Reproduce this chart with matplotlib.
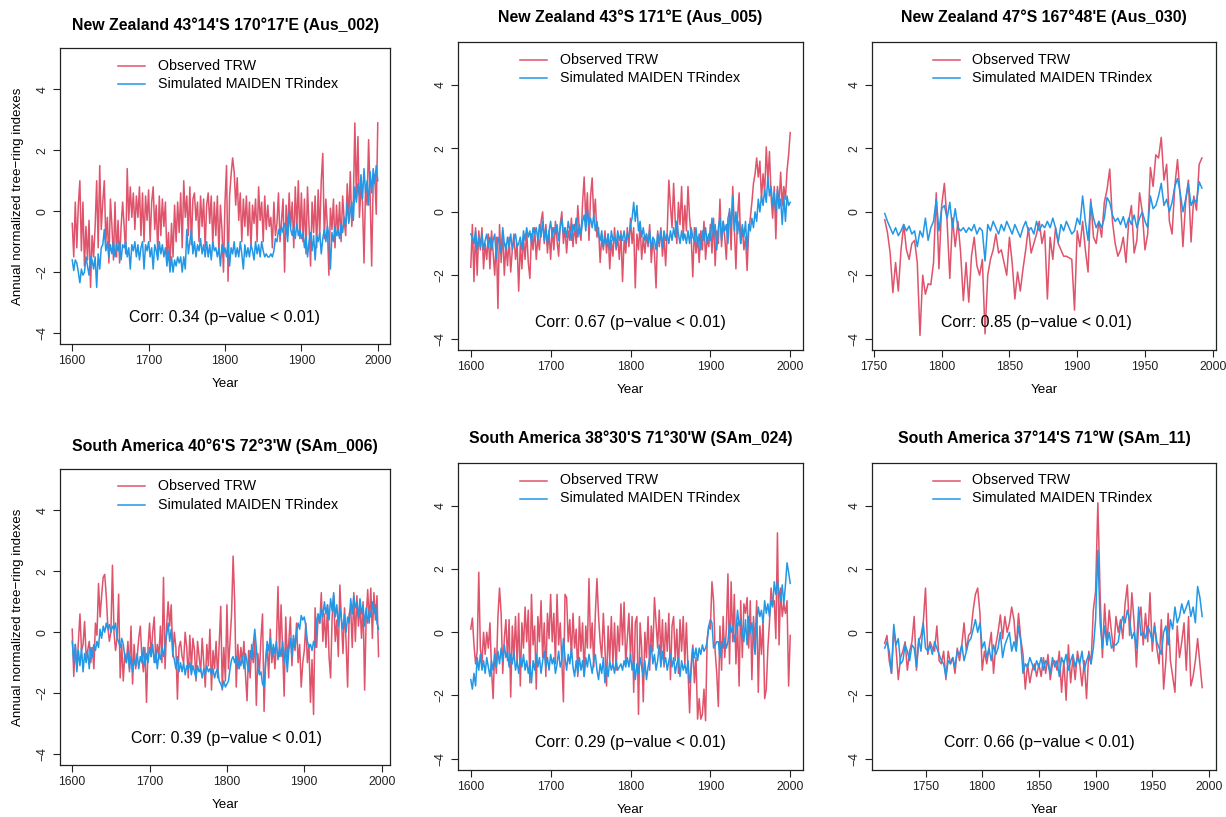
import numpy as np
import matplotlib
matplotlib.use("Agg")
import matplotlib.pyplot as plt
from matplotlib.lines import Line2D

plt.rcParams['font.family'] = ['Liberation Sans', 'DejaVu Sans']
plt.rcParams['axes.unicode_minus'] = True

RED = "#DF536B"
BLUE = "#2297E6"

# ---------------- data (values every 2 years) ----------------
p1_start = 1600
p1_obs = [
    -0.4, -1.5, 0.3, -1.2, 0.2, 1.0, -1.3, 0.3, -1.8, -0.5,
    -1.6, -0.3, -2.5, -0.8, -1.5, -0.5, 1.0, -1.2, 1.5, -0.6,
    0.3, 1.0, -1.0, -0.2, -1.7, 0.4, -0.5, -1.6, 0.3, -1.5,
    -0.3, -1.7, -0.5, 0.3, -0.5, -1.4, 1.4, -0.3, 0.8, -0.2,
    0.6, -0.6, 0.5, -0.2, 0.8, -0.8, 0.6, -1.0, 0.5, -0.3,
    0.7, -1.0, 0.3, 0.8, -0.6, 0.2, -1.4, 0.5, -0.8, 0.4,
    -0.5, 0.3, -1.6, -0.7, -1.8, -0.4, -1.5, 0.2, -1.0, 0.3,
    -0.7, 0.6, -1.2, 1.0, -0.2, 0.5, -0.8, 0.8, -1.1, 0.4,
    0.6, -0.3, 0.3, -1.0, 0.5, -0.5, 0.4, -1.2, 0.2, 0.6,
    -0.4, 0.5, -1.1, 0.3, -0.8, 0.5, -1.4, 0.2, -0.6, -2.0,
    0.3, 1.5, -2.3, 0.5, 1.2, 1.75, 1.3, 0.2, 1.1, -0.3,
    0.6, -1.0, 0.4, -0.5, 0.5, -0.8, 0.3, -1.2, 0.2, -0.4,
    0.4, -1.0, 0.8, -0.3, 0.3, -1.0, 0.5, -0.6, 0.2, -0.5,
    -0.2, -1.2, 0.3, -0.8, -0.4, 0.6, -1.0, -0.3, 0.4, -2.0,
    0.2, -0.8, 0.6, -0.5, 0.3, -1.2, 0.8, -0.6, 1.0, -0.9,
    0.6, -1.0, 0.4, -1.4, 0.8, -0.5, -1.8, 0.3, -0.7, 0.5,
    -1.2, 0.7, -0.8, 1.0, 1.9, -0.9, 0.4, -0.5, -2.1, 0.1,
    -0.6, 0.4, -1.2, 0.2, -0.8, 0.3, -1.0, 0.5, -0.3, -0.8,
    0.9, -0.3, 1.3, -0.5, 0.3, 2.9, 0.4, 2.45, -0.2, 0.8,
    0.3, -1.7, 0.8, 0.2, 2.35, 0.5, -1.8, 1.0, 1.2, -0.1,
    2.9]
p1_sim = [
    -1.6, -1.95, -1.6, -1.7, -2.0, -2.35, -1.9, -2.1, -2.0, -1.5,
    -1.8, -2.1, -1.5, -1.6, -1.9, -1.5, -2.5, -1.4, -1.9, -1.2,
    -1.1, -0.6, -1.3, -1.0, -1.5, -1.1, -1.4, -1.0, -1.5, -1.1,
    -1.3, -1.0, -1.6, -1.1, -1.2, -1.0, -1.5, -1.2, -1.9, -1.1,
    -1.3, -1.0, -1.5, -1.1, -1.6, -1.2, -1.0, -1.9, -1.1, -1.3,
    -1.0, -1.5, -1.2, -1.9, -1.1, -1.3, -1.6, -1.0, -1.4, -1.1,
    -1.5, -1.2, -1.8, -1.3, -2.0, -1.5, -2.0, -1.6, -1.8, -1.5,
    -1.7, -1.5, -2.0, -1.5, -1.9, -0.6, -1.4, -1.0, -0.6, -1.4,
    -1.0, -1.5, -1.1, -1.3, -0.9, -1.4, -1.1, -1.5, -1.0, -1.5,
    -1.1, -1.6, -1.0, -1.3, -1.2, -1.5, -1.2, -1.8, -1.1, -1.4,
    -1.2, -1.5, -1.0, -1.8, -1.2, -1.4, -1.0, -1.5, -1.2, -1.5,
    -1.0, -1.4, -1.9, -1.1, -1.5, -1.2, -1.5, -1.1, -1.3, -1.6,
    -1.0, -1.4, -1.1, -1.5, -1.0, -1.3, -1.5, -1.4, -1.5, -1.5,
    -1.4, -1.5, -1.3, -0.9, -1.0, -0.6, -0.8, -0.5, -0.7, -0.4,
    -0.5, -1.0, 0.0, -0.6, -0.8, -0.5, -0.9, -0.4, -0.8, -0.6,
    -0.9, -0.7, -1.2, -0.8, -1.5, -1.0, -0.7, -1.3, -0.8, -1.6,
    -0.8, -1.0, -0.7, -1.4, -0.9, -0.6, -1.0, -0.5, -0.8, -1.9,
    -0.7, -1.0, -0.5, -0.8, -0.6, -0.9, -0.4, -0.7, -0.2, -0.5,
    0.3, -0.4, 0.0, 0.3, -0.3, 0.8, 0.3, 0.9, 0.5, 1.2,
    0.4, 1.4, 0.6, 1.0, 0.2, 1.3, 0.6, 1.4, 0.9, 1.5,
    1.0]

p2_start = 1600
p2_obs = [
    -1.75, -0.4, -2.2, -0.5, -2.0, -0.6, -1.2, -0.5, -1.8, -1.0,
    -1.5, -0.7, -1.8, -0.6, -1.3, -2.0, -0.8, -3.05, -0.4, -1.6,
    -0.6, -2.0, -1.0, -1.7, -0.8, -1.9, -1.2, -0.7, -1.5, -1.0,
    -2.5, -1.0, -1.8, -0.8, -1.5, -0.6, -1.6, -2.1, -0.7, -1.2,
    -0.5, -1.5, -0.8, -1.2, -0.3, 0.0, -1.0, -0.4, -1.3, -0.6,
    -1.5, -0.5, -1.2, -0.3, -0.9, -1.4, -0.4, 0.0, -1.0, -0.5,
    -1.3, -0.6, -0.9, -0.2, -1.1, -0.4, -1.0, 0.2, -0.6, -0.9,
    0.3, 1.1, -0.3, 0.6, -0.9, 0.5, 1.07, -0.2, 0.4, -0.8,
    -0.5, -1.6, -0.8, -1.2, -0.6, -1.3, -0.7, -1.8, -0.9, -1.4,
    -0.5, -1.2, -0.8, -1.5, -0.6, -2.2, -0.9, -1.3, -0.5, -1.1,
    -0.2, -1.0, -0.5, -2.4, -0.7, -1.2, -0.4, -1.5, -0.8, -1.3,
    -0.7, -1.1, -0.4, -1.6, -0.9, -1.3, -2.4, -0.6, -1.1, -0.5,
    -1.4, -0.8, -1.7, -0.6, 1.0, 0.2, -0.5, 0.9, -0.3, -1.0,
    0.3, -0.4, 0.8, -0.8, 0.2, -0.6, 0.8, -0.2, -0.8, -2.05,
    -0.5, -1.3, -0.8, -1.6, -0.6, -1.2, -0.3, -1.5, -0.8, -1.1,
    -0.4, -1.3, -0.2, -1.7, -0.6, -1.0, 0.4, -1.1, -0.3, -0.8,
    -1.5, -0.2, 0.0, -1.2, 0.8, -0.5, -1.8, -0.2, 0.6, -1.0,
    -0.5, -1.2, -0.8, -1.85, -0.6, -0.2, 0.3, 0.9, 1.2, 1.7,
    1.1, 1.6, 0.4, 1.2, 0.6, 2.05, 1.0, 1.9, 0.5, -0.2,
    0.8, -0.85, 0.8, 0.2, 1.25, 0.2, 0.8, 0.4, 1.3, 1.8,
    2.5]
p2_sim = [
    -0.7, -0.8, -1.0, -0.6, -1.2, -0.8, -1.1, -0.7, -1.2, -0.9,
    -0.7, -1.1, -0.8, -1.2, -0.9, -0.7, -1.5, -0.8, -1.0, -1.3,
    -0.5, -1.0, -1.2, -0.8, -1.1, -0.7, -1.2, -0.9, -0.7, -1.1,
    -1.0, -0.8, -1.2, -0.6, -0.9, -0.5, -0.8, -0.6, -1.0, -0.5,
    -0.7, -0.5, -0.9, -0.4, -0.8, -0.3, -0.9, -0.5, -1.0, -0.6,
    -0.3, -0.8, -0.5, -0.7, -0.4, -0.9, -0.5, -0.2, -0.7, -0.5,
    -0.8, -0.3, -0.6, -0.9, -0.4, -0.6, -0.2, -0.8, -0.4, -0.7,
    -0.3, -0.1, -0.6, 0.05, -0.4, -0.2, -0.5, -0.1, -0.6, -0.3,
    -0.7, -0.9, -0.6, -1.1, -0.8, -1.0, -0.7, -1.2, -0.6, -0.9,
    -0.8, -1.1, -0.6, -0.9, -0.7, -0.9, -0.6, -1.0, -0.7, -0.8,
    -0.4, -0.2, 0.3, -0.3, 0.2, -0.6, -0.3, -0.8, -0.5, -0.9,
    -0.7, -1.0, -0.6, -1.2, -0.8, -0.9, -1.2, -0.7, -1.0, -0.6,
    -1.1, -0.6, -0.9, -0.7, -1.0, -0.6, -0.9, -0.5, -0.8, -0.3,
    -0.7, -1.0, -0.6, -0.9, -0.7, -1.0, -0.6, -1.0, -0.5, -0.8,
    -0.9, -0.5, -1.1, -0.7, -1.2, -0.6, -0.9, -0.5, -1.0, -0.7,
    -0.9, -0.2, -0.8, -0.4, -1.2, -0.5, -0.2, -0.9, -0.3, -0.6,
    -0.4, -1.0, 0.1, -0.5, 0.5, -0.6, 0.0, -0.7, -0.3, -1.0,
    -0.4, -0.8, -0.3, -1.2, -0.4, -0.6, -0.2, -0.5, 0.0, -0.3,
    0.4, 0.0, 0.5, 0.2, 0.7, 0.3, 1.1, 0.5, 0.8, 0.2,
    0.6, 0.0, 0.7, 0.1, 0.4, -0.4, 0.5, -0.3, 0.5, 0.2,
    0.3]

p3_start = 1758
p3_obs = [
    -0.25, -0.65, -1.3, -2.55, -1.6, -2.5, -1.2, -0.4, -1.2, -1.5,
    -1.0, -0.9, -1.6, -3.9, -2.0, -2.6, -2.27, -2.3, -1.6, 0.6,
    -1.8, 0.2, 0.9, -0.3, -2.1, -0.2, -1.1, -0.3, -1.3, -2.8,
    -1.6, -2.85, -1.4, -0.8, -1.7, -2.0, -1.5, -3.85, -2.0, -1.5,
    -1.2, -0.7, -1.3, -1.2, -1.6, -2.0, -0.8, -1.6, -2.75, -1.9,
    -2.5, -1.8, -1.2, -0.5, -1.3, -1.0, -0.7, -0.3, -1.0, -0.6,
    -2.75, -0.8, -1.5, -0.5, -1.0, -1.2, -1.4, -1.4, -1.45, -1.5,
    -3.1, -0.6, -1.1, -0.3, -1.2, -1.9, 0.4, -0.8, -1.0, -0.3,
    -0.8, 0.3, 0.7, 1.35, -0.3, -1.0, -1.4, -1.2, -0.8, -1.6,
    -0.3, 0.2, -1.3, -0.9, 0.6, 0.0, -1.2, -0.7, 1.4, 0.8,
    1.8, 1.7, 2.35, 1.0, 1.5, -0.3, -0.7, 0.8, 1.65, 0.5,
    -1.1, 0.3, 1.0, -0.95, 0.5, 0.05, 1.5, 1.7]
p3_sim = [
    -0.05, -0.3, -0.5, -0.7, -0.5, -0.75, -0.6, -0.4, -0.6, -0.45,
    -0.7, -0.6, -1.1, -0.6, -0.8, -0.2, -0.9, -0.5, -0.3, 0.4,
    -0.6, 0.1, 0.2, -0.2, 0.3, -0.5, 0.1, -0.5, -0.6, -0.5,
    -0.65, -0.5, -0.6, -0.4, -0.7, -0.5, -0.6, -1.55, -0.4, -0.6,
    -0.3, -0.5, -0.7, -0.4, -0.6, -0.3, -0.5, -0.7, -0.4, -0.6,
    -0.8, -0.5, -0.3, -0.6, -0.5, -0.7, -0.3, -0.6, -0.4, -0.5,
    -0.3, -0.5, -0.2, -0.5, -0.95, -0.4, -0.6, -0.3, -0.5, -0.7,
    -0.6, -0.2, -0.4, 0.5, -0.3, -0.9, 0.3, -0.2, -0.5, -0.3,
    -0.5, -0.2, 0.45, 0.3, -0.1, -0.3, -0.2, -0.4, -0.15, -0.5,
    -0.2, -0.4, -0.1, -0.5, -0.2, 0.0, -0.3, -0.5, 0.5, 0.1,
    0.2, 0.5, 0.9, 0.2, 0.4, 0.0, 0.3, 0.8, 1.05, 0.6,
    0.0, 0.4, 0.9, 0.2, 0.4, 0.3, 0.95, 0.75]

p4_start = 1600
p4_obs = [
    0.1, -1.45, -0.4, -1.2, -0.3, 0.6, -0.6, -0.4, 0.35, -0.8,
    -0.6, -0.3, -1.0, -0.5, -1.2, 0.3, -0.1, 1.6, 0.5, 1.2,
    1.8, 1.9, 1.2, 0.2, -0.3, 0.0, 2.2, 0.0, -0.6, -0.2,
    1.25, -1.5, -0.4, -1.6, -0.7, -1.0, -0.3, -1.3, 0.2, -1.7,
    -0.4, -1.2, -0.8, -0.2, 0.2, -0.8, -1.3, -0.5, -2.3, -0.5,
    0.3, -0.8, 0.0, 0.5, -1.0, -0.4, -0.8, 0.2, -1.0, 1.8,
    -1.2, 0.2, 1.0, 0.2, 0.9, -0.8, 0.0, -0.5, -2.2, -0.5,
    -0.3, -0.8, -1.0, 0.0, -0.5, -1.5, -0.1, -1.2, -0.2, -0.6,
    -1.6, -0.3, -0.8, -1.3, -0.2, -1.0, -1.8, -0.4, -1.1, 0.1,
    -1.9, -0.6, -1.2, -0.3, -1.5, -0.4, 0.85, -1.9, -0.5, -1.6,
    0.9, -1.2, -0.3, 0.6, 2.5, 1.0, -1.8, -0.4, -1.2, -0.5,
    -1.0, -0.3, -1.4, -2.25, -0.6, -1.5, -0.4, -1.0, -0.2, -2.4,
    -0.7, -1.3, -0.2, 0.6, -2.6, -0.9, -0.4, -1.5, 0.1, -1.0,
    -0.5, -1.2, -0.3, 1.5, -0.8, 0.9, -0.6, -2.1, 0.5, -0.9,
    -0.3, 0.5, -1.1, -0.2, -0.6, 0.3, -1.0, -0.4, -1.8, -1.0,
    -0.6, 0.3, -1.0, -0.4, -2.3, -0.9, -2.7, 0.8, -0.5, 0.6,
    0.3, 1.3, -0.3, 0.6, -0.5, 0.9, -0.8, -1.5, 0.5, 1.2,
    -0.3, 0.4, -0.8, 1.55, 0.4, -0.7, 0.8, -0.3, -1.8, 0.6,
    0.8, -0.5, 1.3, -0.3, 1.2, 0.2, 0.9, -0.2, 1.0, -1.9,
    0.5, 1.4, 0.3, 1.45, -0.2, 1.3, 0.4, 1.2, -0.8]
p4_sim = [
    -0.3, -1.0, -0.4, -1.3, -0.6, -1.1, -0.5, -1.3, -0.7, -1.0,
    -0.6, -1.2, -0.5, -0.8, -0.4, -0.6, -0.3, -0.5, 0.1, -0.2,
    0.2, 0.0, 0.3, 0.1, 0.25, 0.0, 0.2, 0.1, 0.3, -0.2,
    -0.3, -0.5, -0.2, -0.4, -0.8, -1.0, -0.6, -1.2, -0.8, -1.3,
    -0.9, -1.1, -0.7, -1.2, -0.8, -1.0, -0.5, -1.1, -0.7, -1.0,
    -0.5, -0.8, -0.4, -1.0, -0.6, -1.2, -0.7, -0.9, -0.5, -0.8,
    -0.4, -0.1, 0.3, -0.3, 0.1, -0.7, -0.9, -1.2, -0.8, -1.3,
    -1.0, -1.3, -1.0, -1.4, -1.1, -1.2, -1.0, -1.4, -1.1, -1.3,
    -1.5, -1.1, -1.3, -1.2, -1.5, -1.2, -1.4, -1.1, -1.3, -1.2,
    -1.4, -1.2, -1.5, -1.3, -1.2, -1.6, -1.7, -1.85, -1.6, -1.8,
    -1.7, -1.6, -1.2, -0.9, -0.8, -1.0, -0.8, -1.2, -0.9, -1.1,
    -0.8, -1.2, -0.7, -1.0, -1.3, -0.6, -0.9, -0.4, 0.1, -0.5,
    -1.2, -1.4, -1.3, -1.7, -1.8, -1.0, -0.3, -0.6, -0.2, -0.8,
    -0.4, -0.7, -0.3, -0.9, -0.5, -0.8, -0.3, -1.0, -0.5, -1.3,
    -0.6, -0.2, -0.8, -0.1, -0.5, 0.0, 0.3, 0.1, 0.55, 0.4,
    0.5, 0.2, -0.3, -0.5, -0.4, -0.6, -0.3, -0.5, 0.4, 0.6,
    0.3, 0.8, 0.5, 1.0, 0.6, 0.9, 0.4, 1.1, 0.7, 1.3,
    0.5, 0.9, 0.2, 0.8, 0.4, 0.1, 0.6, 0.0, 0.5, 0.3,
    1.1, 0.6, 1.2, 0.8, 1.0, 0.5, 1.1, 0.6, 0.9, 0.2,
    0.8, 0.3, 0.7, 0.5, 1.0, 0.6, 0.9, 0.3, 0.1]

p5_start = 1600
p5_obs = [
    0.1, 0.45, -0.4, -1.0, -0.6, 1.9, -0.5, -1.0, 0.0, -0.7,
    0.0, -0.5, 0.3, -1.2, -2.1, -0.5, -1.3, 0.5, 1.4, 0.6,
    -1.3, -0.2, 0.4, -0.9, 0.4, -2.05, 0.2, -0.8, 0.5, -1.0,
    0.6, -1.7, 0.3, -0.5, 0.8, -0.3, 0.7, -1.6, 1.2, -0.4,
    0.2, -1.8, 0.5, -0.3, 1.0, -0.8, 0.3, -1.4, 0.6, -0.2,
    1.2, -0.3, 0.6, -1.0, 1.2, -0.4, 0.3, -0.9, -2.2, 1.2,
    1.1, -0.3, 0.4, -0.8, 0.6, -0.5, 0.1, -1.4, 0.5, -0.6,
    0.3, -1.4, 0.2, -0.5, 1.7, -0.5, 0.3, -1.1, 0.6, 1.7,
    0.5, -0.3, -0.8, 0.6, -0.5, -1.7, 0.2, -0.9, 0.5, -1.0,
    0.3, -1.2, 0.2, -0.6, 0.9, -0.4, 0.95, -1.0, -0.2, 0.6,
    -0.8, 0.5, -1.9, 0.3, 0.5, -2.6, 0.3, -0.5, -2.2, 0.0,
    -0.8, 0.5, -1.2, 0.2, -0.6, 1.1, 0.3, -0.5, 0.7, -0.8,
    0.4, -1.1, 0.3, -0.6, 0.6, -1.5, 0.2, 0.5, -0.9, 0.1,
    -1.3, 0.4, -0.6, 0.5, -1.0, 0.3, -1.2, -2.55, -1.0, -0.4,
    -1.6, -0.8, -2.75, -2.1, -2.75, -2.6, -1.8, -2.8, -0.2, 0.2,
    0.1, 1.6, 1.0, -0.6, -1.3, -2.35, 0.2, -1.2, 0.5, -0.8,
    0.1, 1.85, -1.0, 1.6, -0.3, 1.2, -1.0, 0.3, -1.7, 1.0,
    -0.8, 0.9, 0.6, 1.1, -0.5, 1.0, -1.5, 0.5, -0.4, 1.0,
    -1.9, 0.2, -0.7, 0.4, -2.1, -1.8, -0.5, 0.3, 1.4, 0.9,
    1.0, -0.2, 3.15, -0.4, 1.4, 0.5, 0.9, 0.6, 1.0, -1.7,
    -0.1]
p5_sim = [
    -1.5, -1.8, -1.3, -1.7, -0.8, -1.2, -0.7, -1.2, -0.9, -1.3,
    -0.8, -1.1, -1.4, -0.9, -1.2, -0.7, -1.1, -0.6, -1.0, -0.5,
    -0.9, -0.4, -0.8, -0.6, -1.1, -0.7, -1.0, -0.6, -1.2, -0.9,
    -1.3, -0.8, -1.1, -0.7, -1.2, -0.9, -1.3, -1.0, -1.6, -0.9,
    -1.2, -0.7, -1.1, -0.8, -1.3, -0.9, -0.6, -1.1, -0.8, -1.2,
    -0.7, -1.0, -0.8, -1.3, -1.0, -0.6, -1.1, -0.9, -0.2, -0.8,
    -1.2, -0.7, -1.0, -0.5, -1.1, -1.4, -0.9, -1.3, -0.8, -1.2,
    -0.9, -1.4, -0.8, -1.1, -0.7, -1.0, -1.3, -0.9, -0.7, -1.2,
    -1.5, -1.0, -1.3, -0.8, -1.6, -1.1, -1.4, -0.9, -1.2, -1.0,
    -1.3, -0.9, -1.2, -1.1, -1.0, -1.2, -0.9, -1.1, -0.8, -1.1,
    -0.7, -1.2, -0.9, -1.5, -1.0, -1.3, -0.8, -1.1, -1.4, -0.9,
    -1.5, -1.1, -0.8, -0.4, -1.0, -0.7, -1.2, -0.9, -0.4, -1.1,
    -0.6, -1.0, -0.8, -1.2, -0.9, -0.7, -1.1, -0.8, -1.3, -1.0,
    -0.8, -1.4, -0.9, -1.2, -1.0, -1.3, -0.9, -1.6, -1.2, -0.5,
    -0.8, -0.5, -0.9, -0.5, -0.7, -0.4, -0.6, -0.5, -0.3, 0.2,
    0.4, 0.3, -0.5, -0.4, -0.3, -0.3, -0.8, -0.3, -0.5, -0.2,
    -0.5, -0.3, 0.3, 0.0, 0.2, -0.3, 0.0, 0.7, 0.2, 0.4,
    0.0, -0.3, 0.4, -0.4, 0.5, 0.0, 0.3, -0.2, -0.7, 0.3,
    0.8, 0.5, 0.7, 0.3, 1.0, 0.6, 0.9, 0.5, 1.0, 0.8,
    1.6, 1.2, 1.6, 1.3, 1.0, 1.5, 0.9, 1.5, 2.2, 1.9,
    1.55]

p6_start = 1714
p6_obs = [
    -0.35, -0.1, -0.9, -1.3, 0.1, -0.5, -1.5, -0.8, -0.6, -0.3,
    -1.2, -0.6, -0.3, 0.5, -1.2, -0.3, -0.1, 0.3, 1.4, -0.7,
    -0.3, -0.5, -0.6, 0.2, -0.9, -1.0, -0.6, -1.5, -0.6, -1.0,
    -0.8, -1.3, -0.5, -0.9, -0.4, 0.3, -0.6, -0.1, 0.0, 0.7,
    1.2, 1.4, 0.6, -1.2, -0.6, -1.0, -0.5, 0.0, -1.3, -0.4,
    0.0, 0.55, -0.2, 0.5, 0.0, 0.3, 0.8, 0.4, -0.5, 0.6,
    -0.2, -0.7, -1.8, -1.0, -1.6, -1.2, -1.0, -1.4, -1.0, -1.4,
    -0.8, -1.3, -0.7, -1.5, -1.0, -0.9, -1.2, -0.6, -1.9, -0.9,
    -2.15, -0.4, -1.6, -0.8, -1.5, -0.6, -1.0, -1.7, -0.9, -2.1,
    -0.6, -1.0, 0.7, 1.3, 4.1, 1.2, -0.8, 0.9, -0.4, 0.7,
    0.0, -0.6, 0.5, 0.0, 0.4, -0.2, 0.9, 1.5, -0.1, 1.25,
    0.3, -1.1, 0.3, 0.8, -0.4, 0.6, -0.3, 1.25, -0.6, 0.3,
    -0.5, -1.0, 0.4, -1.8, -0.9, 0.6, -0.9, -1.4, -1.9, 0.2,
    -0.8, -0.3, 0.3, -1.2, 0.5, -1.7, -1.4, -0.9, -0.2, -1.0,
    -1.75]
p6_sim = [
    -0.5, -0.3, -0.6, -1.3, 0.25, -0.4, -0.2, -1.0, -0.9, -0.4,
    -0.6, -0.9, -0.4, -0.5, -1.1, -0.2, -0.6, 0.3, -0.5, -0.6,
    -0.4, -0.7, -0.3, -0.5, -0.7, -0.9, -1.0, -1.4, -0.9, -1.0,
    -0.8, -1.1, -0.6, -0.7, -0.4, -0.9, -0.6, -0.3, -0.2, 0.1,
    0.4, 0.0, 0.3, -0.5, -0.3, -0.8, -0.5, -0.9, -0.4, -0.7,
    -0.5, 0.0, -0.8, -0.4, -0.2, 0.0, -0.6, -0.3, -0.6, 0.2,
    -0.3, -1.3, -1.0, -1.1, -0.8, -1.0, -1.2, -0.9, -1.1, -0.8,
    -1.2, -0.9, -1.0, -1.3, -0.8, -1.1, -0.9, -1.4, -0.8, -1.0,
    -0.7, -1.2, -0.9, -0.7, -1.1, -0.8, -1.0, -0.6, -1.2, -0.9,
    -0.7, -1.0, -0.5, 0.4, 2.6, 0.3, -0.5, 0.2, -0.4, 0.0,
    -0.5, -0.4, -0.4, -0.3, 0.2, 0.5, 0.3, 0.7, 0.4, -0.2,
    0.0, -0.5, 0.8, -0.1, 0.0, -0.2, 0.2, 0.0, -0.3, 0.2,
    -0.3, -0.5, -0.7, 0.0, 0.2, -0.4, 0.4, 0.1, 0.8, 0.3,
    0.5, 0.9, 0.6, 0.8, 1.0, 0.5, 0.8, 0.3, 1.45, 1.1,
    0.5]

titles = [
    "New Zealand 43°14'S 170°17'E (Aus_002)",
    "New Zealand 43°S 171°E (Aus_005)",
    "New Zealand 47°S 167°48'E (Aus_030)",
    "South America 40°6'S 72°3'W (SAm_006)",
    "South America 38°30'S 71°30'W (SAm_024)",
    "South America 37°14'S 71°W (SAm_11)",
]
corr_labels = [
    "Corr: 0.34 (p\u2212value < 0.01)",
    "Corr: 0.67 (p\u2212value < 0.01)",
    "Corr: 0.85 (p\u2212value < 0.01)",
    "Corr: 0.39 (p\u2212value < 0.01)",
    "Corr: 0.29 (p\u2212value < 0.01)",
    "Corr: 0.66 (p\u2212value < 0.01)",
]
legend_labels = ["Observed TRW", "Simulated MAIDEN TRindex"]
y_label = "Annual normalized tree\u2212ring indexes"
x_label = "Year"
yticks = [-4, -2, 0, 2, 4]

# ---------------- layout (pixels) ----------------
W, H = 1226, 817
fig = plt.figure(figsize=(W / 100, H / 100), dpi=100)

panels = [
    dict(obs=p1_obs, sim=p1_sim, start=p1_start, box=(60, 48, 390, 344),
         xlim=(1584, 2016), xticks=[1600, 1700, 1800, 1900, 2000], cx=1800, ty=25, leg=58, ylab=True),
    dict(obs=p2_obs, sim=p2_sim, start=p2_start, box=(458, 42, 803, 350),
         xlim=(1584, 2016), xticks=[1600, 1700, 1800, 1900, 2000], cx=1800, ty=17.3, leg=62, ylab=False),
    dict(obs=p3_obs, sim=p3_sim, start=p3_start, box=(872, 42, 1216, 350),
         xlim=(1748.6, 2002.4), xticks=[1750, 1800, 1850, 1900, 1950, 2000], cx=1870, ty=17.3, leg=61, ylab=False),
    dict(obs=p4_obs, sim=p4_sim, start=p4_start, box=(60, 469, 390, 765),
         xlim=(1584.2, 2010.8), xticks=[1600, 1700, 1800, 1900, 2000], cx=1800, ty=446.3, leg=58, ylab=True),
    dict(obs=p5_obs, sim=p5_sim, start=p5_start, box=(458, 463, 803, 770),
         xlim=(1584, 2016), xticks=[1600, 1700, 1800, 1900, 2000], cx=1800, ty=438.7, leg=62, ylab=False),
    dict(obs=p6_obs, sim=p6_sim, start=p6_start, box=(872, 463, 1216, 770),
         xlim=(1702.8, 2006.2), xticks=[1750, 1800, 1850, 1900, 1950, 2000], cx=1850, ty=438.7, leg=61, ylab=False),
]

def fx(px):
    return px / W

def fy(py):
    return 1 - py / H

for i, p in enumerate(panels):
    l, t, r, b = p["box"]
    ax = fig.add_axes([fx(l), fy(b), (r - l) / W, (b - t) / H])
    yo = np.arange(p["start"], p["start"] + 2 * len(p["obs"]), 2)
    ys = np.arange(p["start"], p["start"] + 2 * len(p["sim"]), 2)
    ax.plot(yo, p["obs"], color=RED, lw=1.1)
    ax.plot(ys, p["sim"], color=BLUE, lw=1.1)
    ax.set_xlim(*p["xlim"])
    ax.set_ylim(-4.36, 5.36)
    ax.set_xticks(p["xticks"])
    ax.set_yticks(yticks)
    ax.tick_params(direction="out", length=5, width=0.8, labelsize=8.7,
                   pad=3, colors="#222222")
    for lab in ax.get_yticklabels():
        lab.set_rotation(90)
        lab.set_va("center")
    for s in ax.spines.values():
        s.set_linewidth(0.9)
        s.set_color("#222222")
    ax.text(p["cx"], -3.5, corr_labels[i], ha="center", va="center", fontsize=11.4)

    cxp = (l + r) / 2
    fig.text(fx(cxp), fy(p["ty"]), titles[i], ha="center", va="center",
             fontsize=11.4, fontweight="bold")
    fig.text(fx(cxp), fy(b + 40), x_label, ha="center", va="center", fontsize=9.6)
    if p["ylab"]:
        fig.text(fx(18.3), fy((t + b) / 2), y_label, rotation=90,
                 ha="center", va="center", fontsize=9.6)

    # legend (top, no box)
    x1 = l + p["leg"]
    x2 = x1 + 27
    for k, (lab, col) in enumerate(zip(legend_labels, [RED, BLUE])):
        yy = t + 17.5 + 18 * k
        fig.add_artist(Line2D([fx(x1), fx(x2)], [fy(yy), fy(yy)], color=col,
                              lw=1.1, transform=fig.transFigure))
        fig.text(fx(x2 + 12.5), fy(yy), lab, ha="left", va="center", fontsize=10.3)

fig.savefig("out.png", dpi=100)
